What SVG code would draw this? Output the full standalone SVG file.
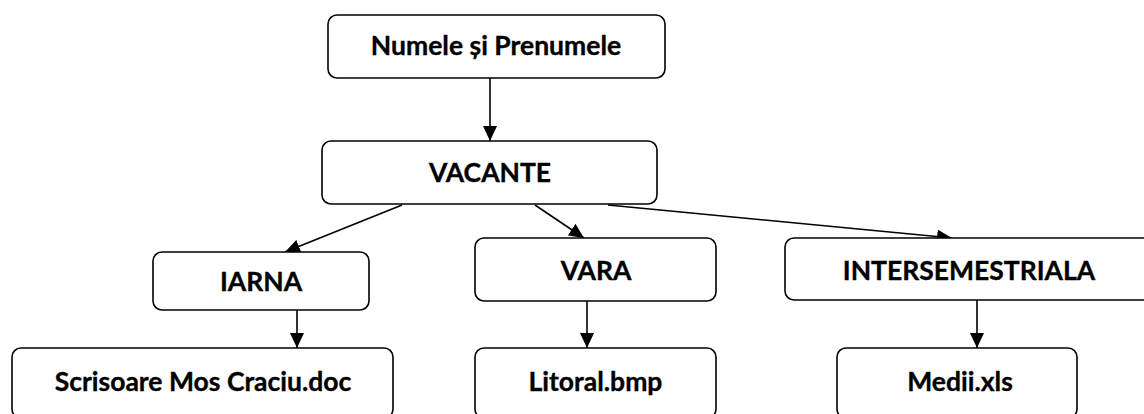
<svg xmlns="http://www.w3.org/2000/svg" width="1144" height="414" viewBox="0 0 1144 414">
<style>
.box{fill:#fff;stroke:#000;stroke-width:1.6}
.lbl{font-family:Lato,"Open Sans","Liberation Sans",sans-serif;font-weight:bold;font-size:26.5px;fill:#000;stroke:#000;stroke-width:0.35;text-anchor:middle}
.edge{stroke:#000;stroke-width:1.6;fill:none;marker-end:url(#ah)}
</style>
<defs>
<marker id="ah" markerUnits="userSpaceOnUse" markerWidth="16" markerHeight="14" refX="15" refY="7" orient="auto">
<path d="M0,0 L15,7 L0,14 z" fill="#000"/>
</marker>
</defs>
<rect width="1144" height="414" fill="#fff"/>
<g id="connectors">
<line class="edge" x1="490" y1="78" x2="490" y2="141"/>
<line class="edge" x1="402" y1="205" x2="285" y2="252"/>
<line class="edge" x1="535" y1="205" x2="584" y2="238"/>
<line class="edge" x1="608" y1="205" x2="952" y2="238"/>
<line class="edge" x1="297" y1="310" x2="297" y2="348"/>
<line class="edge" x1="587" y1="301" x2="587" y2="348"/>
<line class="edge" x1="977" y1="300" x2="977" y2="348"/>
</g>
<g id="n-numele">
<rect class="box" x="328" y="15" width="337" height="63" rx="9"/>
<text class="lbl" x="496" y="55">Numele și Prenumele</text>
</g>
<g id="n-vacante">
<rect class="box" x="322" y="141" width="335" height="63" rx="9"/>
<text class="lbl" x="490" y="182">VACANTE</text>
</g>
<g id="n-iarna">
<rect class="box" x="153" y="252" width="216" height="58" rx="9"/>
<text class="lbl" x="261" y="291">IARNA</text>
</g>
<g id="n-vara">
<rect class="box" x="475" y="238" width="241" height="63" rx="9"/>
<text class="lbl" x="596" y="280">VARA</text>
</g>
<g id="n-intersemestriala">
<rect class="box" x="785" y="238" width="368" height="62" rx="9"/>
<text class="lbl" x="969" y="280">INTERSEMESTRIALA</text>
</g>
<g id="n-scrisoare">
<rect class="box" x="12" y="348" width="381" height="70" rx="9"/>
<text class="lbl" x="203" y="391">Scrisoare Mos Craciu.doc</text>
</g>
<g id="n-litoral">
<rect class="box" x="475" y="348" width="241" height="70" rx="9"/>
<text class="lbl" x="595.5" y="391">Litoral.bmp</text>
</g>
<g id="n-medii">
<rect class="box" x="837" y="348" width="240" height="70" rx="9"/>
<text class="lbl" x="960" y="391">Medii.xls</text>
</g>
</svg>
